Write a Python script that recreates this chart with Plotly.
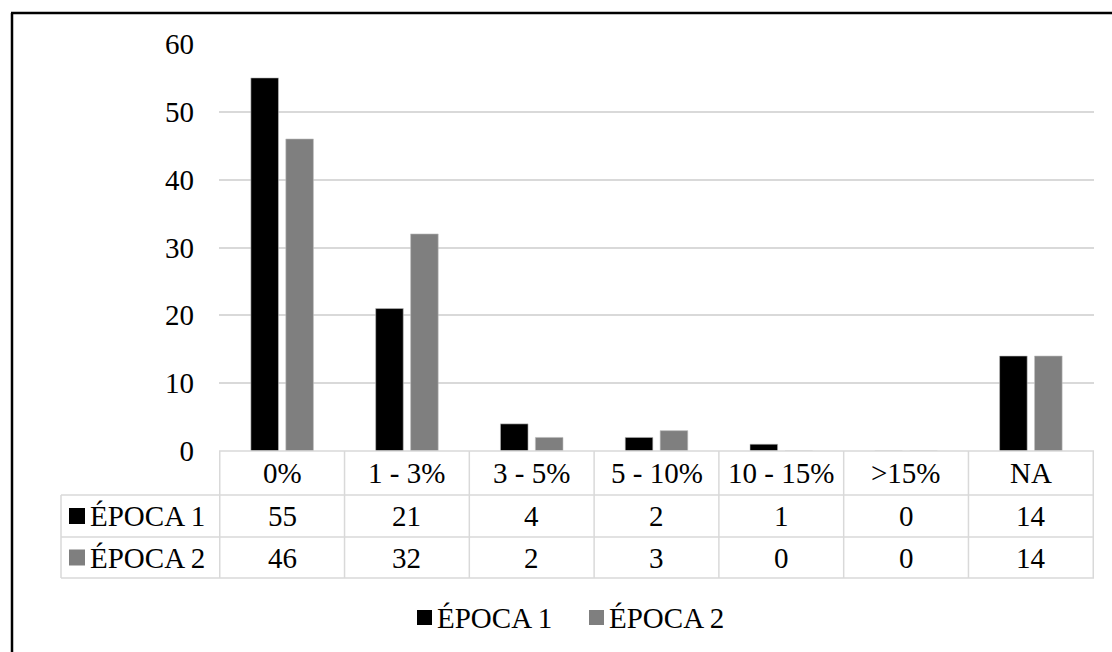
import plotly.graph_objects as go

# Data
categories = ["0%", "1 - 3%", "3 - 5%", "5 - 10%", "10 - 15%", ">15%", "NA"]
series_names = ["ÉPOCA 1", "ÉPOCA 2"]
epoca1 = [55, 21, 4, 2, 1, 0, 14]
epoca2 = [46, 32, 2, 3, 0, 0, 14]
y_ticks = [0, 10, 20, 30, 40, 50, 60]

series_values = [epoca1, epoca2]
colors = ["#000000", "#7f7f7f"]

W, H = 1112, 652
FONT = "Liberation Serif, Times New Roman, serif"
FS = 29
GRID = "#d9d9d9"


def px(x):
    return x / W


def py(y):
    return 1 - y / H


# Layout geometry (pixels)
plot_left, plot_right = 219, 1094
axis_y, top_y = 451, 44
row_lines = [451, 495, 537, 578]
label_left = 61

fig = go.Figure()
for name, vals, col in zip(series_names, series_values, colors):
    fig.add_trace(go.Bar(
        x=categories, y=vals, name=name,
        marker=dict(color=col, line=dict(color="#bfbfbf", width=0.6)),
        showlegend=False,
    ))

shapes = []
annotations = []

# Data table: horizontal rules
shapes.append(dict(type="line", xref="paper", yref="paper",
                   x0=px(plot_left), x1=px(plot_right),
                   y0=py(row_lines[0]), y1=py(row_lines[0]),
                   line=dict(color=GRID, width=1.5)))
for ry in row_lines[1:]:
    shapes.append(dict(type="line", xref="paper", yref="paper",
                       x0=px(label_left), x1=px(plot_right), y0=py(ry), y1=py(ry),
                       line=dict(color=GRID, width=1.5)))
# Data table: column separators
for i in range(len(categories) + 1):
    shapes.append(dict(type="line", xref="x", yref="paper",
                       x0=i - 0.5, x1=i - 0.5,
                       y0=py(row_lines[0]), y1=py(row_lines[-1]),
                       line=dict(color=GRID, width=1.5)))
shapes.append(dict(type="line", xref="paper", yref="paper",
                   x0=px(label_left), x1=px(label_left),
                   y0=py(row_lines[1]), y1=py(row_lines[-1]),
                   line=dict(color=GRID, width=1.5)))

# Header row: category names
hdr_y = (row_lines[0] + row_lines[1]) / 2
for c in categories:
    annotations.append(dict(x=c, y=py(hdr_y), xref="x", yref="paper",
                            text=c, showarrow=False, yanchor="middle",
                            font=dict(family=FONT, size=FS, color="#000")))

# Series rows: key, name and values
for r, (name, vals, col) in enumerate(zip(series_names, series_values, colors)):
    cy = (row_lines[r + 1] + row_lines[r + 2]) / 2
    shapes.append(dict(type="rect", xref="paper", yref="paper",
                       x0=px(69), x1=px(85), y0=py(cy - 8), y1=py(cy + 8),
                       fillcolor=col, line=dict(width=0)))
    annotations.append(dict(x=px(88), y=py(cy), xref="paper", yref="paper",
                            text=name, showarrow=False, xanchor="left", yanchor="middle",
                            font=dict(family=FONT, size=FS, color="#000")))
    for c, v in zip(categories, vals):
        annotations.append(dict(x=c, y=py(cy), xref="x", yref="paper",
                                text=str(v), showarrow=False, yanchor="middle",
                                font=dict(family=FONT, size=FS, color="#000")))

# Legend below the table
leg_y = 618
for name, col, kx in zip(series_names, colors, [417, 589]):
    shapes.append(dict(type="rect", xref="paper", yref="paper",
                       x0=px(kx), x1=px(kx + 15), y0=py(leg_y - 8), y1=py(leg_y + 7),
                       fillcolor=col, line=dict(width=0)))
    annotations.append(dict(x=px(kx + 18), y=py(leg_y), xref="paper", yref="paper",
                            text=name, showarrow=False, xanchor="left", yanchor="middle",
                            font=dict(family=FONT, size=FS, color="#000")))

# Outer chart frame (left and top edges)
shapes.append(dict(type="line", xref="paper", yref="paper",
                   x0=px(12), x1=px(12), y0=0, y1=py(13),
                   line=dict(color="#000", width=2.5)))
shapes.append(dict(type="line", xref="paper", yref="paper",
                   x0=px(11), x1=1, y0=py(13), y1=py(13),
                   line=dict(color="#000", width=2.5)))

fig.update_layout(
    width=W, height=H,
    autosize=False,
    margin=dict(l=0, r=0, t=0, b=0, pad=0, autoexpand=False),
    paper_bgcolor="white", plot_bgcolor="white",
    barmode="group", bargap=0.44, bargroupgap=0.21,
    font=dict(family=FONT, size=FS, color="#000"),
    xaxis=dict(domain=[px(plot_left), px(plot_right)], showticklabels=False,
               showgrid=False, zeroline=False, showline=False, ticks="",
               automargin=False),
    yaxis=dict(domain=[py(axis_y), py(top_y)], range=[0, 60],
               tickvals=y_ticks, showgrid=True, gridcolor=GRID, gridwidth=1.5,
               zeroline=False, showline=False, ticks="",
               ticklabelstandoff=24, automargin=False,
               tickfont=dict(family=FONT, size=FS, color="#000")),
    shapes=shapes, annotations=annotations,
)

fig.write_html("out.html")
